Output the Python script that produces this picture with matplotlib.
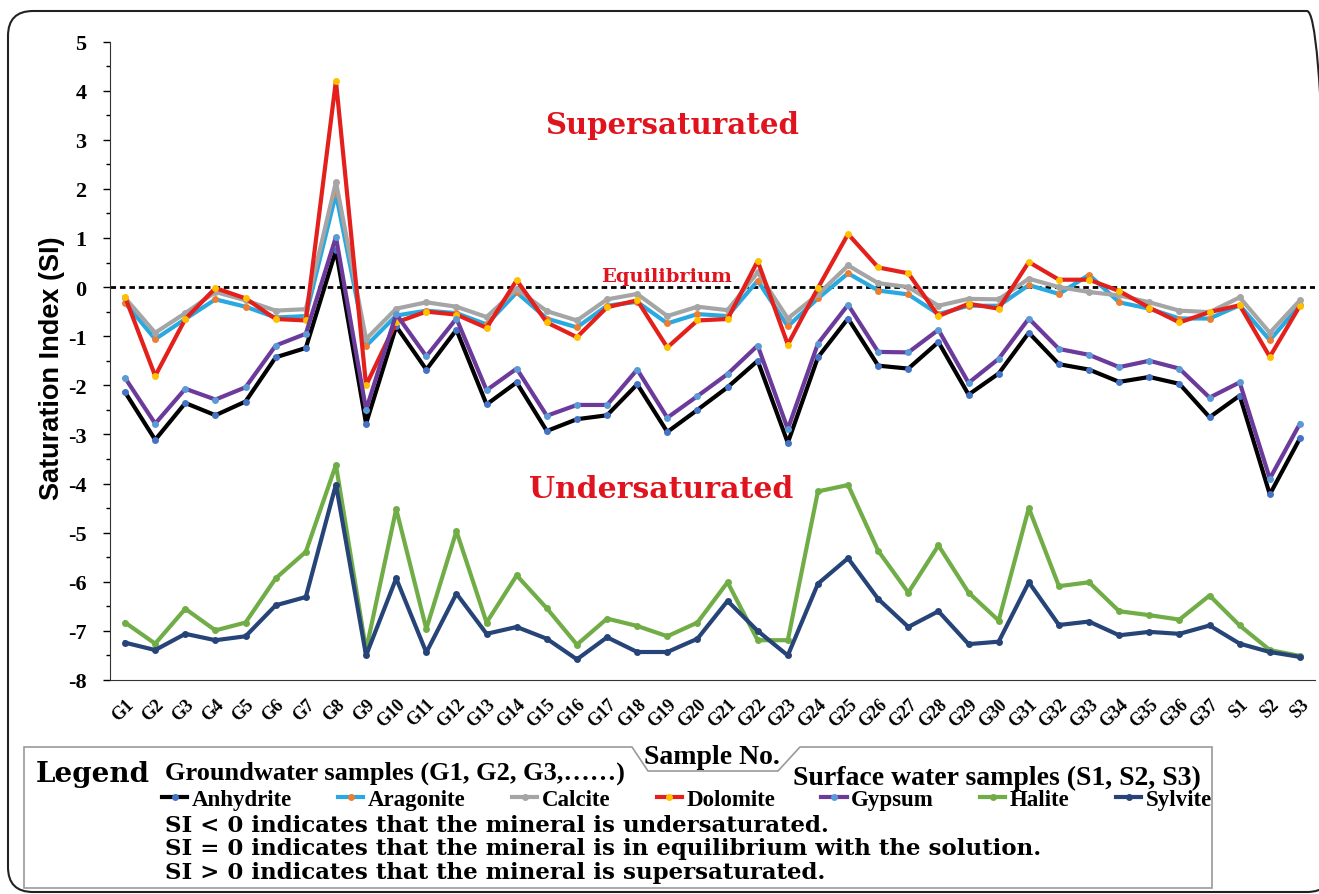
import numpy as np
import matplotlib
matplotlib.use("Agg")
import matplotlib.pyplot as plt
from matplotlib.patches import Polygon, FancyBboxPatch
from matplotlib.ticker import MultipleLocator

plt.rcParams["axes.unicode_minus"] = False

# sample names: 37 groundwater wells and 3 surface water sites
samples = [f"G{i}" for i in range(1, 38)] + ["S1", "S2", "S3"]

# saturation indices per mineral
anhydrite = [-2.14, -3.11, -2.36, -2.61, -2.33, -1.43, -1.24, 0.75, -2.78, -0.80,
             -1.68, -0.87, -2.39, -1.94, -2.93, -2.69, -2.61, -1.98, -2.95, -2.50,
             -2.04, -1.50, -3.17, -1.43, -0.64, -1.60, -1.66, -1.12, -2.19, -1.76,
             -0.93, -1.57, -1.68, -1.93, -1.83, -1.97, -2.65, -2.21, -4.22, -3.08]
aragonite = [-0.32, -1.06, -0.65, -0.25, -0.40, -0.62, -0.59, 1.90, -1.20, -0.58,
             -0.48, -0.53, -0.76, -0.11, -0.64, -0.82, -0.38, -0.30, -0.74, -0.55,
             -0.59, 0.13, -0.80, -0.23, 0.28, -0.07, -0.15, -0.55, -0.38, -0.38,
             0.04, -0.14, 0.25, -0.31, -0.44, -0.64, -0.64, -0.37, -1.08, -0.37]
calcite = [-0.22, -0.93, -0.53, -0.10, -0.27, -0.48, -0.45, 2.14, -1.06, -0.44,
           -0.31, -0.40, -0.61, -0.04, -0.49, -0.68, -0.25, -0.14, -0.59, -0.40,
           -0.47, 0.30, -0.64, -0.15, 0.44, 0.08, 0.00, -0.38, -0.24, -0.25,
           0.17, 0.00, -0.10, -0.17, -0.31, -0.48, -0.51, -0.21, -0.93, -0.27]
dolomite = [-0.20, -1.81, -0.65, -0.02, -0.23, -0.65, -0.68, 4.20, -2.00, -0.72,
            -0.50, -0.56, -0.83, 0.14, -0.72, -1.02, -0.41, -0.27, -1.23, -0.68,
            -0.65, 0.53, -1.17, -0.02, 1.08, 0.40, 0.28, -0.59, -0.34, -0.44,
            0.51, 0.15, 0.15, -0.08, -0.42, -0.72, -0.51, -0.37, -1.42, -0.38]
gypsum = [-1.85, -2.78, -2.07, -2.29, -2.04, -1.19, -0.95, 1.02, -2.50, -0.55,
          -1.41, -0.64, -2.10, -1.66, -2.62, -2.40, -2.40, -1.68, -2.66, -2.22,
          -1.77, -1.19, -2.89, -1.15, -0.36, -1.32, -1.33, -0.87, -1.95, -1.46,
          -0.64, -1.26, -1.38, -1.63, -1.50, -1.66, -2.25, -1.94, -3.90, -2.78]
halite = [-6.83, -7.26, -6.55, -6.99, -6.83, -5.93, -5.39, -3.62, -7.39, -4.52,
          -6.96, -4.97, -6.83, -5.87, -6.54, -7.28, -6.75, -6.90, -7.11, -6.83,
          -6.01, -7.19, -7.19, -4.16, -4.03, -5.37, -6.22, -5.26, -6.22, -6.79,
          -4.50, -6.09, -6.01, -6.60, -6.68, -6.77, -6.28, -6.89, -7.39, -7.51]
sylvite = [-7.24, -7.39, -7.06, -7.19, -7.11, -6.48, -6.31, -4.02, -7.50, -5.93,
           -7.44, -6.24, -7.06, -6.92, -7.16, -7.58, -7.13, -7.43, -7.43, -7.16,
           -6.39, -7.00, -7.50, -6.04, -5.52, -6.35, -6.92, -6.60, -7.27, -7.22,
           -6.01, -6.88, -6.81, -7.09, -7.02, -7.06, -6.89, -7.26, -7.43, -7.53]

minerals = ["Anhydrite", "Aragonite", "Calcite", "Dolomite", "Gypsum", "Halite", "Sylvite"]
series = [anhydrite, aragonite, calcite, dolomite, gypsum, halite, sylvite]
line_colors = ["#000000", "#2AA9E0", "#A5A5A5", "#E3201B", "#6B3A9B", "#70AD47", "#264478"]
marker_colors = ["#4472C4", "#ED7D31", "#A5A5A5", "#FFC000", "#5B9BD5", "#70AD47", "#264478"]

W, H = 1319, 895
fig = plt.figure(figsize=(W / 100, H / 100), dpi=100)
fig.patch.set_facecolor("white")

def fx(px):
    return px / W

def fy(py):
    return 1 - py / H

ax = fig.add_axes([fx(110), fy(681), fx(1315) - fx(110), fy(42.5) - fy(681)])

x = np.arange(1, len(samples) + 1)
ax.axhline(0, color="black", lw=2, ls=(0, (2, 1.4)), zorder=1)

handles = []
for name, vals, lc, mc in zip(minerals, series, line_colors, marker_colors):
    h, = ax.plot(x, vals, color=lc, lw=3, marker="o", markersize=5,
                 markerfacecolor=mc, markeredgewidth=0, label=name, zorder=3)
    handles.append(h)

ax.set_xlim(0.5, len(samples) + 0.5)
ax.set_ylim(-8, 5)
ax.yaxis.set_major_locator(MultipleLocator(1))
ax.yaxis.set_minor_locator(MultipleLocator(0.5))
ax.set_xticks(x)
ax.set_xticklabels(samples, rotation=45, ha="right", rotation_mode="anchor",
                   fontfamily="Liberation Serif", fontweight="bold", fontsize=13)
ax.set_yticks(np.arange(-8, 6))
ax.set_yticklabels([str(v) for v in range(-8, 6)], fontfamily="Liberation Serif",
                   fontweight="bold", fontsize=16)
ax.tick_params(axis="x", length=0, pad=11)
ax.tick_params(axis="y", which="major", direction="out", length=5, width=1, pad=12)
ax.tick_params(axis="y", which="minor", direction="out", length=3, width=1)
for s in ["top", "right"]:
    ax.spines[s].set_visible(False)
ax.spines["left"].set_color("#333333")
ax.spines["bottom"].set_color("#333333")

ax.set_ylabel("Saturation Index (SI)", fontfamily="Liberation Sans",
              fontweight="bold", fontsize=19.5)
ax.yaxis.set_label_coords(-0.037, 0.49)
ax.set_xlabel("Sample No.", fontfamily="Liberation Serif", fontweight="bold",
              fontsize=20, va="center")
ax.xaxis.set_label_coords((712 - 110) / 1205, -(757 - 681) / 638.5)

red = "#E0141E"
fig.text(fx(672), fy(125), "Supersaturated", color=red, fontfamily="DejaVu Serif",
         fontweight="bold", fontsize=21, ha="center", va="center")
fig.text(fx(667), fy(277), "Equilibrium", color=red, fontfamily="DejaVu Serif",
         fontweight="bold", fontsize=14, ha="center", va="center")
fig.text(fx(661), fy(490), "Undersaturated", color=red, fontfamily="DejaVu Serif",
         fontweight="bold", fontsize=21.5, ha="center", va="center")

# legend panel with a notch for the axis title
box = [(24, 748), (632, 748), (648, 772), (778, 772), (800, 748), (1212, 748),
       (1212, 889), (24, 889)]
fig.patches.append(Polygon([(fx(a), fy(b)) for a, b in box], closed=True,
                           transform=fig.transFigure, facecolor="none",
                           edgecolor="#9A9A9A", lw=1.2))
fig.patches.append(FancyBboxPatch((0.08, 0.02), 13.24, 8.81,
                                  boxstyle="round,pad=0,rounding_size=0.25",
                                  transform=fig.dpi_scale_trans, facecolor="none",
                                  edgecolor="#222222", lw=1.5))

fig.text(fx(36), fy(775), "Legend", fontfamily="DejaVu Serif", fontweight="bold",
         fontsize=20, ha="left", va="center")
fig.text(fx(165), fy(773), "Groundwater samples (G1, G2, G3,\u2026\u2026)",
         fontfamily="Liberation Serif", fontweight="bold", fontsize=19,
         ha="left", va="center")
fig.text(fx(793), fy(778), "Surface water samples (S1, S2, S3)",
         fontfamily="Liberation Serif", fontweight="bold", fontsize=20,
         ha="left", va="center")

fig.legend(handles=handles, labels=minerals, ncol=7, loc="center",
           bbox_to_anchor=(fx(162), fy(812), fx(1212) - fx(162), fy(788) - fy(812)),
           mode="expand", frameon=False, handlelength=1.1, handletextpad=0.2,
           borderaxespad=0, borderpad=0,
           prop={"family": "Liberation Serif", "weight": "bold", "size": 16.5})

notes = ["SI < 0 indicates that the mineral is undersaturated.",
         "SI = 0 indicates that the mineral is in equilibrium with the solution.",
         "SI > 0 indicates that the mineral is supersaturated."]
for i, t in enumerate(notes):
    fig.text(fx(165), fy(826 + 23.5 * i), t, fontfamily="DejaVu Serif",
             fontweight="bold", fontsize=16.5, ha="left", va="center")

fig.savefig("out.png", dpi=100)
